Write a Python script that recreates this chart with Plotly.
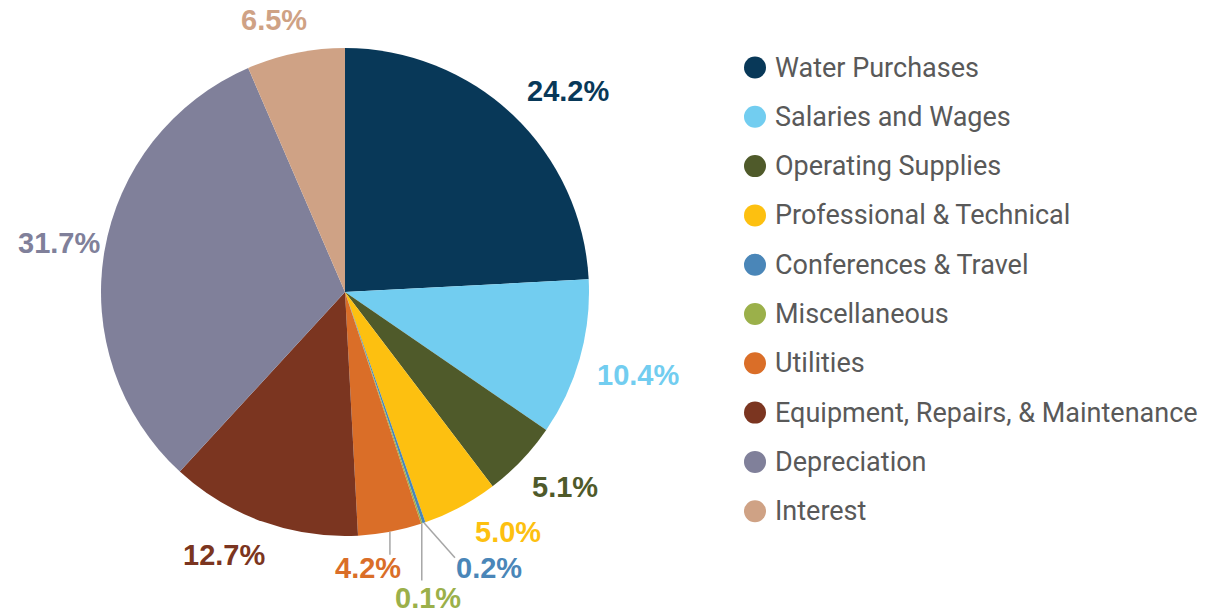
import math
import plotly.graph_objects as go

categories = ["Water Purchases", "Salaries and Wages", "Operating Supplies",
              "Professional & Technical", "Conferences & Travel", "Miscellaneous",
              "Utilities", "Equipment, Repairs, & Maintenance", "Depreciation", "Interest"]
values = [24.2, 10.4, 5.1, 5.0, 0.2, 0.1, 4.2, 12.7, 31.7, 6.5]
labels = ["24.2%", "10.4%", "5.1%", "5.0%", "0.2%", "0.1%", "4.2%", "12.7%", "31.7%", "6.5%"]
colors = ["#083858", "#72CDF0", "#4F5A2A", "#FDC010", "#4A86B8",
          "#9BB04A", "#DA6E28", "#7B3520", "#80809A", "#CFA285"]

# ---- layout constants (window pixels) ----
W, H = 1220, 610
OFF = 8                      # page body margin in the browser
CX, CY, R = 345, 292, 244    # pie centre / radius
LABEL_FS = 29
GAP = 18
GAP_OVERRIDE = {8: 4}
# angular nudges (degrees) applied to outside labels to avoid collisions
NUDGE = {0: 4.5, 2: -2.0, 3: -6.0, 7: 5.0, 9: -3.0}
# thin slices get leader lines: (line end dx, dy), (label centre dx, dy) from slice edge
LEADER = {4: ((31, 35), (65, 45)), 5: ((0, 57), (6, 74)), 6: ((0, 23), (-22, 36))}
# custom legend
LEG_X, LEG_TOP, LEG_STEP, LEG_TEXT_GAP = 755, 67.5, 49.3, 18
LEG_FS = 27


def px2paper(px, py):
    return (px - OFF) / W, 1 - (py - OFF) / H


def tw(s, fs):
    w = {".": 0.278, "%": 0.889}
    return sum(w.get(ch, 0.556) for ch in s) * fs


fig = go.Figure()
x0, y0 = px2paper(CX - R, CY + R)
x1, y1 = px2paper(CX + R, CY - R)
fig.add_trace(go.Pie(
    labels=categories, values=values, textinfo="none",
    sort=False, direction="clockwise", rotation=0,
    marker=dict(colors=colors, line=dict(width=0)),
    domain=dict(x=[x0, x1], y=[y0, y1]),
    showlegend=False, hoverinfo="label+value",
))

total = sum(values)
cum = 0.0
annotations, shapes = [], []
for i, (v, lab, col) in enumerate(zip(values, labels, colors)):
    mid = (cum + v / 2) / total * 2 * math.pi
    cum += v
    font = dict(size=LABEL_FS, color=col, family="Liberation Sans, Arial")
    if i in LEADER:
        s, c = math.sin(mid), math.cos(mid)
        ex, ey = CX + R * s, CY - R * c
        (lx, ly), (tx, ty) = LEADER[i]
        ax0, ay0 = px2paper(ex, ey)
        ax1, ay1 = px2paper(ex + lx, ey + ly)
        shapes.append(dict(type="line", xref="paper", yref="paper",
                           x0=ax0, y0=ay0, x1=ax1, y1=ay1,
                           line=dict(color="#A6A6A6", width=1.5)))
        qx, qy = px2paper(ex + tx, ey + ty)
        annotations.append(dict(
            x=qx, y=qy, xref="paper", yref="paper",
            text=f"<b>{lab}</b>", font=font, showarrow=False,
            xanchor="center", yanchor="middle"))
    else:
        ang = mid + math.radians(NUDGE.get(i, 0.0))
        s, c = math.sin(ang), math.cos(ang)
        w, h = tw(lab, LABEL_FS), LABEL_FS * 0.8
        d = R + GAP_OVERRIDE.get(i, GAP) + (w / 2) * abs(s) + (h / 2) * abs(c)
        qx, qy = px2paper(CX + d * s, CY - d * c)
        annotations.append(dict(
            x=qx, y=qy, xref="paper", yref="paper",
            text=f"<b>{lab}</b>", font=font, showarrow=False,
            xanchor="center", yanchor="middle"))

# legend: markers drawn on a pixel-scaled overlay axis, names as annotations
leg_y = [LEG_TOP + k * LEG_STEP for k in range(len(categories))]
fig.add_trace(go.Scatter(
    x=[LEG_X] * len(categories), y=leg_y, mode="markers",
    marker=dict(symbol="circle", size=22, color=colors, line=dict(width=0)),
    showlegend=False, hoverinfo="skip", cliponaxis=False,
))
for name, yy in zip(categories, leg_y):
    qx, qy = px2paper(LEG_X + LEG_TEXT_GAP, yy)
    annotations.append(dict(
        x=qx, y=qy, xref="paper", yref="paper", text=name, showarrow=False,
        xanchor="left", yanchor="middle",
        font=dict(size=LEG_FS, color="#595959", family="Roboto")))

fig.update_layout(
    width=W, height=H, margin=dict(l=0, r=0, t=0, b=0),
    paper_bgcolor="white", plot_bgcolor="rgba(0,0,0,0)",
    xaxis=dict(visible=False, range=[OFF, W + OFF], domain=[0, 1], fixedrange=True),
    yaxis=dict(visible=False, range=[H + OFF, OFF], domain=[0, 1], fixedrange=True),
    annotations=annotations, shapes=shapes, showlegend=False,
)
fig.write_html("out.html")
